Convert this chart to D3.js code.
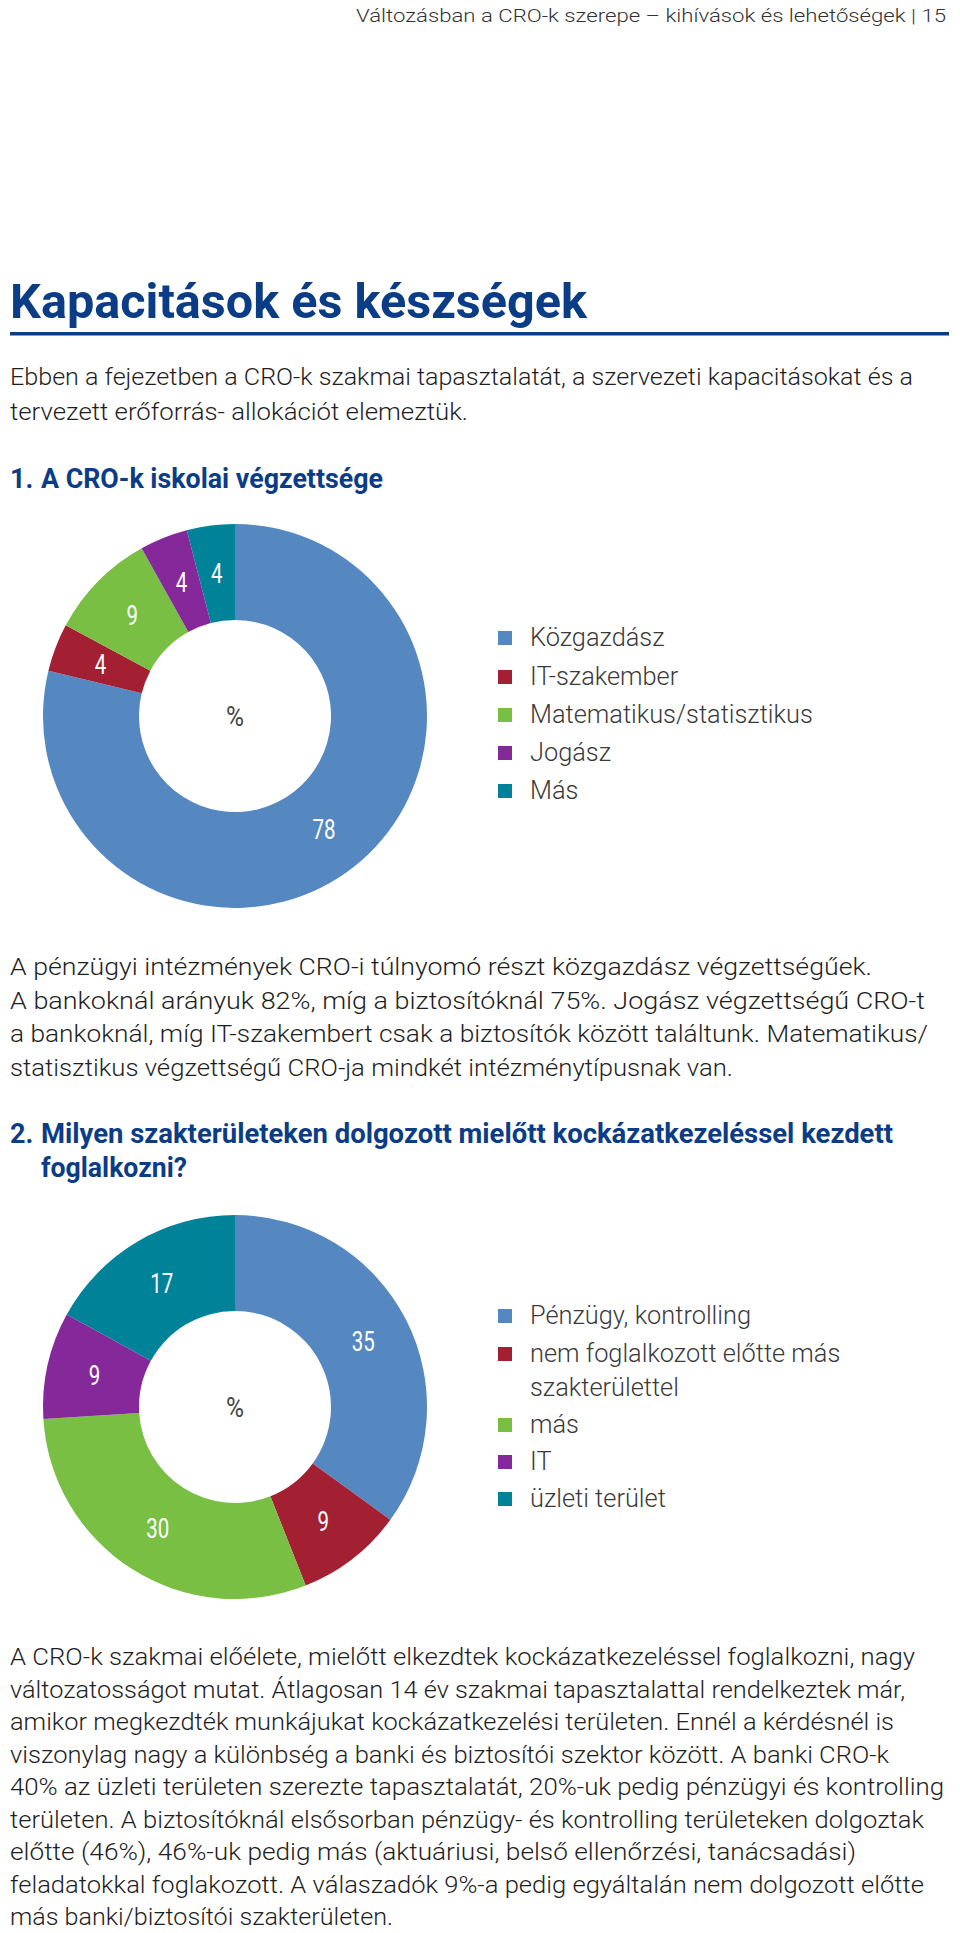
<!DOCTYPE html>
<html><head><meta charset="utf-8">
<script src="https://cdn.jsdelivr.net/npm/d3@7"></script>
<style>html,body{margin:0;padding:0;background:#fff;} svg{display:block}</style>
</head><body>
<svg id="page" width="960" height="1933"></svg>
<script>
// ---------- content / data ----------
const headerText = "Változásban a CRO-k szerepe – kihívások és lehetőségek | 15";
const titleText = "Kapacitások és készségek";
const introLines = [
  "Ebben a fejezetben a CRO-k szakmai tapasztalatát, a szervezeti kapacitásokat és a",
  "tervezett erőforrás- allokációt elemeztük."
];
const chart1Number = "1.";
const chart1Title = ["A CRO-k iskolai végzettsége"];
const eduCategories = ["Közgazdász", "IT-szakember", "Matematikus/statisztikus", "Jogász", "Más"];
const eduValues = [78, 4, 9, 4, 4];
const eduNote = [
  "A pénzügyi intézmények CRO-i túlnyomó részt közgazdász végzettségűek.",
  "A bankoknál arányuk 82%, míg a biztosítóknál 75%. Jogász végzettségű CRO-t",
  "a bankoknál, míg IT-szakembert csak a biztosítók között találtunk. Matematikus/",
  "statisztikus végzettségű CRO-ja mindkét intézménytípusnak van."
];
const chart2Number = "2.";
const chart2Title = ["Milyen szakterületeken dolgozott mielőtt kockázatkezeléssel kezdett", "foglalkozni?"];
const prevCategories = ["Pénzügy, kontrolling", "nem foglalkozott előtte más szakterülettel", "más", "IT", "üzleti terület"];
const prevValues = [35, 9, 30, 9, 17];
const prevNote = [
  "A CRO-k szakmai előélete, mielőtt elkezdtek kockázatkezeléssel foglalkozni, nagy",
  "változatosságot mutat. Átlagosan 14 év szakmai tapasztalattal rendelkeztek már,",
  "amikor megkezdték munkájukat kockázatkezelési területen. Ennél a kérdésnél is",
  "viszonylag nagy a különbség a banki és biztosítói szektor között. A banki CRO-k",
  "40% az üzleti területen szerezte tapasztalatát, 20%-uk pedig pénzügyi és kontrolling",
  "területen. A biztosítóknál elsősorban pénzügy- és kontrolling területeken dolgoztak",
  "előtte (46%), 46%-uk pedig más (aktuáriusi, belső ellenőrzési, tanácsadási)",
  "feladatokkal foglakozott. A válaszadók 9%-a pedig egyáltalán nem dolgozott előtte",
  "más banki/biztosítói szakterületen."
];
const centerLabel = "%";
const sliceColors = ["#5588c1", "#a31f32", "#79bf43", "#85299a", "#008299"];

// ---------- layout (line widths measured from the page) ----------
const introWidths = [903, 458];
const note1Widths = [862, 915, 918, 723];
const note2Widths = [905, 895, 884, 879, 934, 914, 846, 914, 383];

const svg = d3.select("#page");
const NARROW = "'Liberation Sans Narrow','Roboto','Liberation Sans',sans-serif";
const WIDE = "'Roboto','Liberation Sans','Noto Sans',sans-serif";
const BLUE = "#0b3c86";

function squeeze(sel, target) {
  sel.attr("textLength", target).attr("lengthAdjust", "spacingAndGlyphs");
}

// header
const hdr = svg.append("text").attr("x", 356).attr("y", 22)
  .attr("font-family", NARROW).attr("font-size", 19).attr("font-weight", 300)
  .attr("fill", "#333").text(headerText);
squeeze(hdr, 590);

// title
const ttl = svg.append("text").attr("x", 10).attr("y", 318)
  .attr("font-family", NARROW).attr("font-size", 48).attr("font-weight", 700)
  .attr("fill", BLUE).text(titleText);
squeeze(ttl, 577);
svg.append("rect").attr("x", 10).attr("y", 332).attr("width", 939).attr("height", 3.5).attr("fill", BLUE);

// body text
const BODY_SIZE = 23;
function bodyText(lines, widths, y0, lh) {
  lines.forEach((t, i) => {
    const s = svg.append("text")
      .attr("x", 10).attr("y", y0 + i * lh)
      .attr("font-family", NARROW).attr("font-size", BODY_SIZE).attr("font-weight", 300)
      .attr("fill", "#1e1e1e").text(t);
    squeeze(s, widths[i]);
  });
}
bodyText(introLines, introWidths, 385, 35);
bodyText(eduNote, note1Widths, 975, 33.7);
bodyText(prevNote, note2Widths, 1665, 32.5);

// headings
function heading(num, lines, y0, lh, widths) {
  svg.append("text").attr("x", 10).attr("y", y0)
    .attr("font-family", NARROW).attr("font-size", 27).attr("font-weight", 700)
    .attr("fill", BLUE).text(num);
  lines.forEach((t, i) => {
    const s = svg.append("text").attr("x", 41).attr("y", y0 + i * lh)
      .attr("font-family", NARROW).attr("font-size", 27).attr("font-weight", 700)
      .attr("fill", BLUE).text(t);
    squeeze(s, widths[i]);
  });
}
heading(chart1Number, chart1Title, 488, 34, [342]);
heading(chart2Number, chart2Title, 1143, 34, [852, 146]);

// donut charts
const R = 192, r0 = 96;
const arc = d3.arc().innerRadius(r0).outerRadius(R);
const pie = d3.pie().sort(null).value(d => d.value);

function donut(cats, vals, cx, cy) {
  const color = d3.scaleOrdinal(cats, sliceColors);
  const data = cats.map((c, i) => ({ cat: c, value: vals[i] }));
  const g = svg.append("g").attr("transform", `translate(${cx},${cy})`);
  const arcs = pie(data);
  g.selectAll("path").data(arcs).join("path")
    .attr("d", arc).attr("fill", d => color(d.data.cat));
  const lbl = g.selectAll("text.v").data(arcs).join("text").attr("class", "v")
    .attr("transform", d => `translate(${arc.centroid(d)})`)
    .attr("text-anchor", "middle").attr("dy", "0.36em")
    .attr("font-family", NARROW).attr("font-size", 27).attr("font-weight", 400)
    .attr("fill", "#fff").text(d => d.data.value);
  lbl.each(function () {
    const n = this.textContent.length;
    squeeze(d3.select(this), n * 11.5);
  });
  const pc = g.append("text").attr("text-anchor", "middle").attr("dy", "0.36em")
    .attr("font-family", NARROW).attr("font-size", 27).attr("fill", "#444").text(centerLabel);
  squeeze(pc, 18);
  return color;
}

function legend(cats, color, x, rows, maxW) {
  const probe = svg.append("text").attr("font-family", WIDE).attr("font-size", 22)
    .attr("font-weight", 300).text("Matematikus/statisztikus");
  const fs = 22 * 283 / probe.node().getComputedTextLength();
  probe.remove();
  let row = 0;
  cats.forEach(c => {
    svg.append("rect").attr("x", x).attr("y", rows[row] - 7).attr("width", 14).attr("height", 14)
      .attr("fill", color(c));
    const words = c.split(" ");
    let line = [];
    const lines = [];
    const t = svg.append("text").attr("font-family", WIDE).attr("font-size", fs).attr("font-weight", 300);
    words.forEach(w => {
      const test = [...line, w].join(" ");
      t.text(test);
      if (t.node().getComputedTextLength() > maxW && line.length) { lines.push(line.join(" ")); line = [w]; }
      else line.push(w);
    });
    lines.push(line.join(" "));
    t.remove();
    lines.forEach(l => {
      svg.append("text").attr("x", x + 32).attr("y", rows[row] + 8)
        .attr("font-family", WIDE).attr("font-size", fs).attr("font-weight", 300)
        .attr("fill", "#3a3a3a").text(l);
      row++;
    });
  });
}

const c1 = donut(eduCategories, eduValues, 235, 716);
legend(eduCategories, c1, 498, [638, 677, 715, 753, 791], 330);
const c2 = donut(prevCategories, prevValues, 235, 1407);
legend(prevCategories, c2, 498, [1316, 1354, 1388, 1425, 1462, 1499], 330);
</script>
</body></html>
